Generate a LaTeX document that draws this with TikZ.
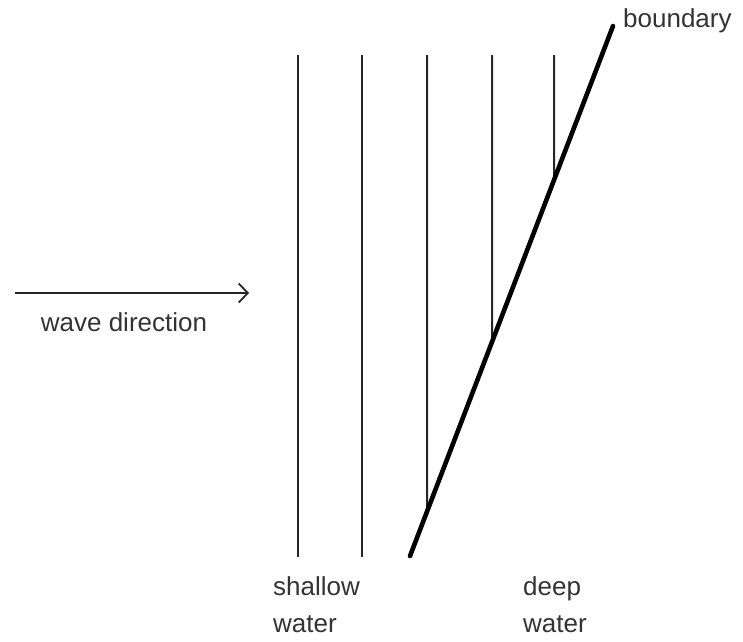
\documentclass[tikz,border=0pt]{standalone}
\usepackage{fontspec}
\setmainfont{Liberation Sans}
\usetikzlibrary{arrows.meta}
\begin{document}
\begin{tikzpicture}[x=1pt,y=-1pt,
  wave/.style={line width=2pt,draw=black!85},
  bound/.style={line width=4.6pt,line cap=round},
  lbl/.style={inner sep=0pt,font=\fontsize{26}{30}\selectfont,text=black!80},
  dirarrow/.style={line width=1.8pt,draw=black!85,-{Straight Barb[length=9pt,width=19pt,line width=1.8pt]}}]
\useasboundingbox (0,0) rectangle (743,641);
% boundary
\coordinate (b1) at (410,556);
\coordinate (b2) at (613,26);
% wave tops
\coordinate (t1) at (298,55);
\coordinate (t2) at (362,55);
\coordinate (t3) at (427,55);
\coordinate (t4) at (492,55);
\coordinate (t5) at (554,55);
\coordinate (u1) at (298,557);
\coordinate (u2) at (362,557);
\coordinate (m3) at (intersection of b1--b2 and t3--{427,600});
\coordinate (m4) at (intersection of b1--b2 and t4--{492,600});
\coordinate (m5) at (intersection of b1--b2 and t5--{554,600});
\draw[wave] (t1) -- (u1);
\draw[wave] (t2) -- (u2);
\draw[wave] (t3) -- (m3);
\draw[wave] (t4) -- (m4);
\draw[wave] (t5) -- (m5);
\draw[bound] (b1) -- (b2);
% arrow
\coordinate (a1) at (15,293);
\coordinate (a2) at (249,293);
\draw[dirarrow] (a1) -- (a2);
\node[lbl,anchor=base] (wd) at (124,331) {wave direction};
\node[lbl,anchor=base west] (bd) at (623,27) {boundary};
\node[lbl,anchor=base west] (sw1) at (273,595) {shallow};
\node[lbl,anchor=base west] (sw2) at (273,632) {water};
\node[lbl,anchor=base west] (dw1) at (523,595) {deep};
\node[lbl,anchor=base west] (dw2) at (523,632) {water};
\end{tikzpicture}
\end{document}
